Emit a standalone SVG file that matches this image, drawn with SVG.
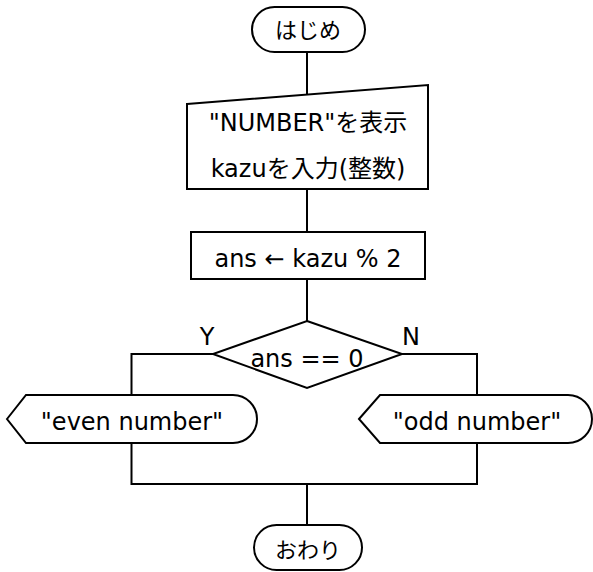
<svg xmlns="http://www.w3.org/2000/svg" width="593" height="572" viewBox="0 0 593 572">
<style>
.s{fill:#fff;stroke:#000;stroke-width:2}
.c{fill:none;stroke:#000;stroke-width:2}
text{font-family:"DejaVu Sans","Noto Sans CJK JP",sans-serif;font-size:24px;fill:#000;text-anchor:middle}
.j{font-size:22px}
</style>
<rect width="593" height="572" fill="#fff"/>
<g id="connectors">
<path class="c" d="M307,52 V95"/>
<path class="c" d="M307,190 V232"/>
<path class="c" d="M307,279 V321"/>
<path class="c" d="M213,354 H131.5 V395"/>
<path class="c" d="M402,354 H477 V395"/>
<path class="c" d="M131.5,443 V484 M477,443 V484 M130.5,484 H478 M307,484 V525"/>
</g>
<g id="start">
<rect class="s" x="252" y="7" width="113" height="45" rx="22.5"/>
<text class="j" x="308" y="38">はじめ</text>
</g>
<g id="input">
<path class="s" d="M187,104 L428,85 V189 H187 Z"/>
<text x="308" y="131">"NUMBER"を表示</text>
<text x="308" y="177">kazuを入力(整数)</text>
</g>
<g id="process">
<rect class="s" x="191" y="232" width="234" height="47"/>
<text x="308" y="267">ans ← kazu % 2</text>
</g>
<g id="decision">
<path class="s" d="M307,321 L402,354 L307,388 L213,354 Z"/>
<text x="307" y="367">ans == 0</text>
<text x="207" y="345">Y</text>
<text x="411" y="345">N</text>
</g>
<g id="even">
<path class="s" d="M7,419 L26,395 H233 A24,24 0 0 1 233,443 H26 Z"/>
<text x="132" y="430">"even number"</text>
</g>
<g id="odd">
<path class="s" d="M359,419 L380,395 H568 A24,24 0 0 1 568,443 H380 Z"/>
<text x="477" y="430">"odd number"</text>
</g>
<g id="end">
<rect class="s" x="254" y="525" width="108" height="45" rx="22.5"/>
<text class="j" x="308" y="558">おわり</text>
</g>
</svg>
